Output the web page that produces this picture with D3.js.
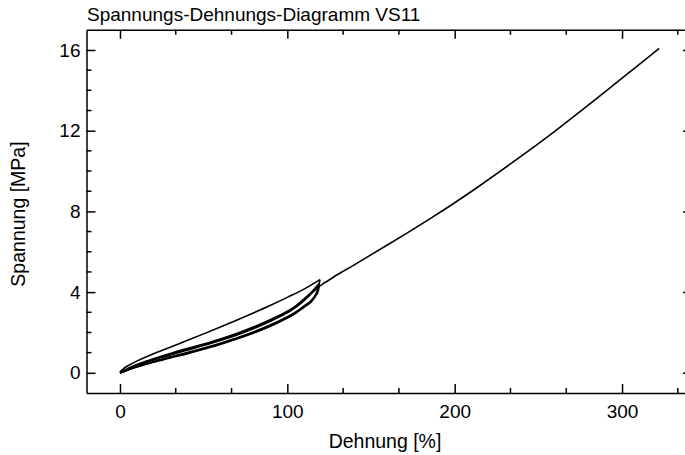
<!DOCTYPE html>
<html>
<head>
<meta charset="utf-8">
<script src="https://cdn.jsdelivr.net/npm/d3@7"></script>
<style>
    body { margin: 0; background: #fff; }
    svg { display: block; font-family: "Liberation Sans", Arial, sans-serif; }
    .axis path, .axis line { stroke: #000; stroke-width: 1.5; }
    .axis text { font-size: 19px; fill: #000; }
</style>
</head>
<body>
<svg id="chart" width="685" height="455"></svg>
<script>
// tick values
var xMajorTicks = [0, 100, 200, 300];
var xMinorTicks = [33.33, 66.67, 133.33, 166.67, 233.33, 266.67, 333.33];
var yMajorTicks = [0, 4, 8, 12, 16];
var yMinorTicks = [1, 2, 3, 5, 6, 7, 9, 10, 11, 13, 14, 15];

// first loading (upper line of the loop)
var load1X = [0, 2, 5, 10, 20, 30, 40, 50, 60, 70, 80, 90, 100, 110, 119.5];
var load1Y = [0.05, 0.2, 0.36, 0.58, 0.95, 1.27, 1.6, 1.93, 2.27, 2.62, 2.98, 3.35, 3.74, 4.15, 4.62];

// unloading paths share the strain values
var unloadX = [119.5, 118.5, 117, 114, 110, 105, 100, 90, 80, 70, 60, 50, 40, 30, 20, 15, 10, 5, 2, 0];
var unload1Y = [4.62, 4.22, 3.9, 3.56, 3.32, 3.02, 2.78, 2.38, 2.04, 1.74, 1.47, 1.23, 1.0, 0.79, 0.56, 0.44, 0.31, 0.16, 0.06, 0];
var unload2Y = [4.42, 4.12, 3.85, 3.52, 3.28, 2.98, 2.74, 2.34, 2.0, 1.71, 1.44, 1.2, 0.97, 0.76, 0.54, 0.42, 0.3, 0.15, 0.05, 0];
var unload3Y = [4.35, 4.07, 3.81, 3.49, 3.25, 2.95, 2.71, 2.31, 1.97, 1.68, 1.41, 1.17, 0.94, 0.74, 0.52, 0.41, 0.29, 0.14, 0.05, 0];

// reloading paths
var reloadX = [0, 2, 5, 10, 15, 20, 30, 40, 50, 60, 70, 80, 90, 100, 105, 110, 115, 119];
var reload2Y = [0, 0.09, 0.23, 0.41, 0.56, 0.7, 0.96, 1.2, 1.43, 1.68, 1.96, 2.28, 2.64, 3.05, 3.32, 3.66, 4.05, 4.42];
var reload3Y = [0, 0.08, 0.21, 0.38, 0.53, 0.67, 0.92, 1.16, 1.39, 1.64, 1.92, 2.24, 2.6, 3.01, 3.28, 3.62, 4.01, 4.35];

// last loading up to rupture
var finalX = [0, 2, 5, 10, 15, 20, 30, 40, 50, 60, 70, 80, 90, 100, 105, 110, 115, 118, 121, 125, 130, 140, 155, 170, 187, 200, 213, 235, 257, 280, 300, 322.2];
var finalY = [0, 0.07, 0.19, 0.36, 0.5, 0.64, 0.88, 1.12, 1.35, 1.6, 1.88, 2.2, 2.56, 2.97, 3.24, 3.58, 3.97, 4.2, 4.4, 4.6, 4.87, 5.35, 6.1, 6.85, 7.73, 8.43, 9.16, 10.45, 11.79, 13.28, 14.6, 16.08];

function pairs (xs, ys) {
    return xs.map(function (d, i) { return [d, ys[i]]; });
}

var segments = [
    pairs(load1X, load1Y),
    pairs(unloadX, unload1Y),
    pairs(reloadX, reload2Y),
    pairs(unloadX.slice(0).fill(119, 0, 1), unload2Y),
    pairs(reloadX, reload3Y),
    pairs(unloadX.slice(0).fill(119, 0, 1), unload3Y),
    pairs(finalX, finalY)
];

var svg = d3.select('#chart');

var x = d3.scaleLinear().domain([-20, 340]).range([86.5, 689]);
var y = d3.scaleLinear().domain([-1, 17]).range([393, 29.8]);

function drawAxes () {
    var bottom = svg.append('g').attr('class', 'axis')
        .attr('transform', 'translate(0,' + y(-1) + ')');
    bottom.call(d3.axisBottom(x).tickValues(xMajorTicks).tickSizeInner(-9).tickSizeOuter(0).tickPadding(12));
    bottom.selectAll('.minor').data(xMinorTicks).enter().append('line')
        .attr('class', 'minor')
        .attr('x1', x).attr('x2', x)
        .attr('y1', 0).attr('y2', -5);

    var top = svg.append('g').attr('class', 'axis')
        .attr('transform', 'translate(0,' + y(17) + ')');
    top.call(d3.axisTop(x).tickValues(xMajorTicks).tickSizeInner(-9).tickSizeOuter(0).tickFormat(''));
    top.selectAll('.minor').data(xMinorTicks).enter().append('line')
        .attr('class', 'minor')
        .attr('x1', x).attr('x2', x)
        .attr('y1', 0).attr('y2', 5);

    var left = svg.append('g').attr('class', 'axis')
        .attr('transform', 'translate(' + x(-20) + ',0)');
    left.call(d3.axisLeft(y).tickValues(yMajorTicks).tickSizeInner(-9).tickSizeOuter(0).tickPadding(6));
    left.selectAll('.minor').data(yMinorTicks).enter().append('line')
        .attr('class', 'minor')
        .attr('y1', y).attr('y2', y)
        .attr('x1', 0).attr('x2', 5);

    var right = svg.append('g').attr('class', 'axis')
        .attr('transform', 'translate(' + x(340) + ',0)');
    right.call(d3.axisRight(y).tickValues(yMajorTicks).tickSizeInner(-6).tickSizeOuter(0).tickFormat(''));

    svg.append('text')
        .attr('x', 87).attr('y', 21)
        .style('font-size', '19px')
        .text('Spannungs-Dehnungs-Diagramm VS11');

    svg.append('text')
        .attr('x', 385).attr('y', 448)
        .attr('text-anchor', 'middle')
        .style('font-size', '19.5px')
        .text('Dehnung [%]');

    svg.append('text')
        .attr('transform', 'translate(25,' + 214 + ') rotate(-90)')
        .attr('text-anchor', 'middle')
        .style('font-size', '19.5px')
        .text('Spannung [MPa]');
}

function drawCurve () {
    var line = d3.line()
        .x(function (d) { return x(d[0]); })
        .y(function (d) { return y(d[1]); })
        .curve(d3.curveCatmullRom.alpha(0.5));

    svg.append('g').selectAll('path')
        .data(segments)
        .enter().append('path')
        .attr('d', line)
        .attr('fill', 'none')
        .attr('stroke', '#000')
        .attr('stroke-width', 1.6);
}

drawAxes();
drawCurve();
</script>
</body>
</html>
